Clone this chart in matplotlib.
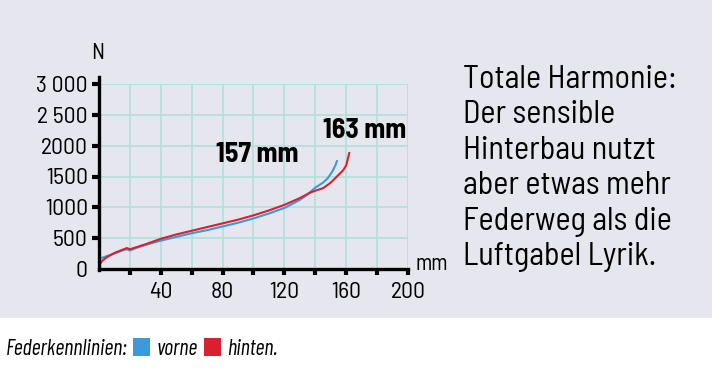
import matplotlib
matplotlib.use('Agg')
import matplotlib.pyplot as plt
from matplotlib.patches import Rectangle
from matplotlib import font_manager

# Federkennlinien (Weg in mm, Kraft in N)
hinten_x = [0, 2, 5, 10, 15, 18, 20, 25, 30, 40, 50, 60, 70, 80, 90, 100, 110,
            120, 130, 136, 140, 145, 150, 154, 158, 160, 161, 162]
hinten_y = [60, 130, 190, 260, 310, 340, 320, 360, 400, 490, 560, 620, 680, 740,
            800, 870, 950, 1040, 1150, 1230, 1270, 1310, 1400, 1500, 1600, 1680,
            1780, 1880]
vorne_x = [0, 3, 5, 10, 15, 18, 20, 25, 30, 40, 50, 60, 70, 80, 90, 100, 110,
           120, 130, 135, 140, 145, 148, 151, 153, 154]
vorne_y = [170, 190, 210, 250, 300, 320, 300, 350, 390, 460, 520, 580, 630, 690,
           750, 820, 900, 990, 1120, 1210, 1320, 1400, 1470, 1580, 1680, 1750]

x_ticks = [20, 40, 60, 80, 100, 120, 140, 160, 180, 200]
x_labels = ["", "40", "", "80", "", "120", "", "160", "", "200"]
y_ticks = [0, 500, 1000, 1500, 2000, 2500, 3000]
y_labels = ["0", "500", "1000", "1500", "2000", "2 500", "3 000"]

info_text = ["Totale Harmonie:", "Der sensible", "Hinterbau nutzt",
             "aber etwas mehr", "Federweg als die", "Luftgabel Lyrik."]

names = {f.name for f in font_manager.fontManager.ttflist}
prefs = ["Barlow Semi Condensed", "Barlow Condensed", "Roboto Condensed",
         "Saira Semi Condensed", "Encode Sans Condensed", "Liberation Sans Narrow"]
narrow = next((p for p in prefs if p in names), "DejaVu Sans")
legend_font = "Barlow Condensed" if "Barlow Condensed" in names else narrow
plt.rcParams['font.family'] = [narrow, 'DejaVu Sans']

BG = "#e6e6ef"
BLUE = "#3b9bd8"
RED = "#d8202e"
GRID = "#b4e0da"

fig = plt.figure(figsize=(7.12, 3.71), dpi=100, facecolor=BG)
fig.patches.append(Rectangle((0, 0), 1, 53 / 371, transform=fig.transFigure,
                             facecolor="white", edgecolor="none", zorder=0))

ax = fig.add_axes([99 / 712, 1 - 269 / 371, 309 / 712, 185 / 371])
ax.set_facecolor(BG)
ax.set_xlim(0, 200)
ax.set_ylim(0, 3000)

for gx in x_ticks:
    ax.axvline(gx, color=GRID, lw=1.3, zorder=1)
for gy in y_ticks[1:]:
    ax.axhline(gy, color=GRID, lw=1.3, zorder=1)

ax.plot(vorne_x, vorne_y, color=BLUE, lw=1.5, zorder=3)
ax.plot(hinten_x, hinten_y, color=RED, lw=1.5, zorder=4)

for s in ["top", "right"]:
    ax.spines[s].set_visible(False)
for s in ["left", "bottom"]:
    ax.spines[s].set_linewidth(2.4)
    ax.spines[s].set_color("black")
    ax.spines[s].set_zorder(5)
ax.spines["left"].set_bounds(-20, 3120)
ax.spines["left"].set_clip_on(False)

ax.set_xticks(x_ticks)
ax.set_xticklabels(x_labels)
ax.set_yticks(y_ticks)
ax.set_yticklabels(y_labels)
ax.tick_params(axis="x", direction="out", length=4, width=3, pad=5, labelsize=17)
ax.tick_params(axis="y", direction="out", length=5, width=3, pad=3, labelsize=17)
ax.yaxis.get_major_ticks()[0].tick1line.set_visible(False)

ax.text(-1, 3330, "N", fontsize=16, ha="center", va="bottom")
ax.text(205, -10, "mm", fontsize=16, ha="left", va="baseline")
ax.text(76, 1850, "157 mm", fontsize=20, fontweight="bold", ha="left", va="center")
ax.text(145, 2240, "163 mm", fontsize=20, fontweight="bold", ha="left", va="center")

# Infotext rechts, Groesse an die Breite der ersten Zeile angepasst
renderer = fig.canvas.get_renderer()
probe = fig.text(0, 0, info_text[0], fontsize=20)
w = probe.get_window_extent(renderer).width
probe.remove()
info_size = 20 * 214 / w
for i, line in enumerate(info_text):
    fig.text(463 / 712, 1 - (88 + i * 35.4) / 371, line, fontsize=info_size,
             ha="left", va="baseline")

# Legende unten
leg = dict(fontsize=16, style="italic", ha="left", va="baseline",
           family=[legend_font, 'DejaVu Sans'])
fig.text(6 / 712, 1 - 355 / 371, "Federkennlinien:", **leg)
fig.patches.append(Rectangle((133 / 712, 1 - 356 / 371), 17 / 712, 18 / 371,
                             transform=fig.transFigure, facecolor=BLUE,
                             edgecolor="none"))
fig.text(157 / 712, 1 - 355 / 371, "vorne", **leg)
fig.patches.append(Rectangle((204 / 712, 1 - 356 / 371), 17 / 712, 18 / 371,
                             transform=fig.transFigure, facecolor=RED,
                             edgecolor="none"))
fig.text(227 / 712, 1 - 355 / 371, "hinten.", **leg)

fig.savefig("out.png", dpi=100, facecolor=fig.get_facecolor())
